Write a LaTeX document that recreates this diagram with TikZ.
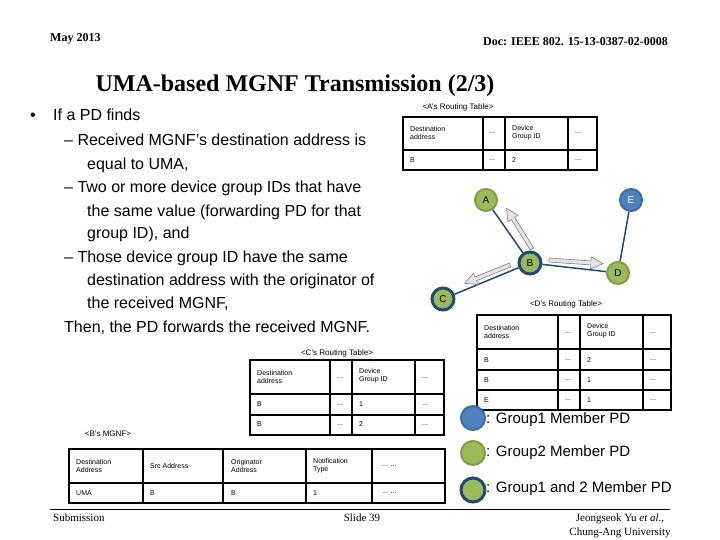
\documentclass[tikz,border=0pt]{standalone}
\usepackage{fontspec}
\setmainfont{Liberation Serif}
\setsansfont{Liberation Sans}
\usetikzlibrary{calc}
\definecolor{grn}{HTML}{9BBB59}
\definecolor{grnb}{HTML}{7F9F45}
\definecolor{blu}{HTML}{4F81BD}
\definecolor{blub}{HTML}{3A6EA5}
\definecolor{dblu}{HTML}{1F497D}
\begin{document}
\begin{tikzpicture}[x=1pt,y=-1pt,
  body/.style={anchor=base west,inner sep=0,font=\sffamily\fontsize{16}{16}\selectfont},
  tb/.style={font=\sffamily\fontsize{7}{8}\selectfont,anchor=west,inner sep=0,align=left},
  tcap/.style={font=\sffamily\fontsize{8}{8}\selectfont,inner sep=0},
  pdg/.style={circle,fill=grn,draw=grnb,line width=2pt,minimum size=22pt,inner sep=0,font=\sffamily\fontsize{10}{10}\selectfont},
  pdb/.style={circle,fill=blu,draw=blub,line width=2pt,minimum size=22pt,inner sep=0,font=\sffamily\fontsize{10}{10}\selectfont,text=white},
  pdr/.style={circle,fill=grn,draw=dblu,line width=3pt,minimum size=22pt,inner sep=0,font=\sffamily\fontsize{10}{10}\selectfont},
  lnk/.style={draw=dblu,line width=1.5pt},
  harr/.style={draw=gray,fill=gray!20,line width=0.6pt},
  leg/.style={font=\sffamily\fontsize{15}{15}\selectfont,anchor=west,inner sep=0},
  foot/.style={anchor=base,inner sep=0,font=\fontsize{11}{11}\selectfont}]
\useasboundingbox (0,0) rectangle (720,540);
\fill[white] (0,0) rectangle (720,540);
% header
\node[anchor=base west,inner sep=0,font=\bfseries\fontsize{12}{12}\selectfont] (hd1) at (50,42) {May 2013};
\node[anchor=base east,inner sep=0,font=\bfseries\fontsize{12}{12}\selectfont] (hd2) at (668,46) {Doc: IEEE 802. 15-13-0387-02-0008};
\node[anchor=base,inner sep=0,font=\bfseries\fontsize{24}{24}\selectfont] (title) at (295,92) {UMA-based MGNF Transmission (2/3)};
% body
\node[body] (bul) at (30,121) {•};
\node[body] (l1) at (53,121) {If a PD finds};
\node[body] (l2) at (64,146) {– Received MGNF’s destination address is};
\node[body] (l3) at (87,170) {equal to UMA,};
\node[body] (l4) at (64,193) {– Two or more device group IDs that have};
\node[body] (l5) at (87,216) {the same value (forwarding PD for that};
\node[body] (l6) at (87,239) {group ID), and};
\node[body] (l7) at (64,262) {– Those device group ID have the same};
\node[body] (l8) at (87,285) {destination address with the originator of};
\node[body] (l9) at (87,308) {the received MGNF,};
\node[body] (l10) at (64,332) {Then, the PD forwards the received MGNF.};
% A table
\fill[white] (403,117) rectangle (597,170);
\draw[line width=1.2pt] (403,117) rectangle (597,170) (403,150)--(597,150) (483,117)--(483,170) (505,117)--(505,170) (568,117)--(568,170);
\node[tcap] (capA) at (458,107) {<A's Routing Table>};
\node[tb] (a1) at (410,133) {Destination\\address};
\node[tb] (a2) at (489,133) {...};
\node[tb] (a3) at (512,133) {Device\\Group ID};
\node[tb] (a4) at (575,133) {...};
\node[tb] (a5) at (410,160) {B};
\node[tb] (a6) at (489,160) {...};
\node[tb] (a7) at (512,160) {2};
\node[tb] (a8) at (575,160) {...};
% graph
\node[pdg] (A) at (486,200) {A};
\node[pdb] (E) at (631,200) {E};
\node[pdr] (B) at (530,263) {B};
\node[pdg] (D) at (618,273) {D};
\node[pdr] (C) at (443,299) {C};
\draw[lnk] (B)--(A) (B)--(D) (E)--(D) (B)--(C);
\begin{scope}[shift={(532,249)},rotate=122]
\draw[harr] (0,-2)--(36,-2)--(36,-6)--(48,0)--(36,6)--(36,2)--(0,2)--cycle;
\end{scope}
\begin{scope}[shift={(549,260)},rotate=-4]
\draw[harr] (0,-2)--(42,-2)--(42,-6)--(54,0)--(42,6)--(42,2)--(0,2)--cycle;
\end{scope}
\begin{scope}[shift={(510,265)},rotate=202]
\draw[harr] (0,-2)--(37,-2)--(37,-6)--(49,0)--(37,6)--(37,2)--(0,2)--cycle;
\end{scope}
% D table
\draw[line width=1.2pt] (477,315) rectangle (671,410) (477,349)--(671,349) (477,370)--(671,370) (477,390)--(671,390) (558,315)--(558,410) (580,315)--(580,410) (643,315)--(643,410);
\node[tcap] (capD) at (566,304) {<D's Routing Table>};
\node[tb] (d1) at (484,332) {Destination\\address};
\node[tb] (d2) at (565,333) {...};
\node[tb] (d3) at (587,331) {Device\\Group ID};
\node[tb] (d4) at (650,333) {...};
\node[tb] (d5) at (484,360) {B}; \node[tb] (d6) at (565,360) {...}; \node[tb] (d7) at (587,360) {2}; \node[tb] (d8) at (650,360) {...};
\node[tb] (d9) at (484,380) {B}; \node[tb] (d10) at (565,380) {...}; \node[tb] (d11) at (587,380) {1}; \node[tb] (d12) at (650,380) {...};
\node[tb] (d13) at (484,400) {E}; \node[tb] (d14) at (565,400) {...}; \node[tb] (d15) at (587,400) {1}; \node[tb] (d16) at (650,400) {...};
% C table
\draw[line width=1.2pt] (250,360) rectangle (444,435) (250,394)--(444,394) (250,415)--(444,415) (330,360)--(330,435) (352,360)--(352,435) (415,360)--(415,435);
\node[tcap] (capC) at (337,353) {<C's Routing Table>};
\node[tb] (c1) at (257,377) {Destination\\address};
\node[tb] (c2) at (337,378) {...};
\node[tb] (c3) at (359,376) {Device\\Group ID};
\node[tb] (c4) at (422,378) {...};
\node[tb] (c5) at (257,404) {B}; \node[tb] (c6) at (337,405) {...}; \node[tb] (c7) at (359,404) {1}; \node[tb] (c8) at (422,405) {...};
\node[tb] (c9) at (257,424) {B}; \node[tb] (c10) at (337,425) {...}; \node[tb] (c11) at (359,424) {2}; \node[tb] (c12) at (422,425) {...};
% B's MGNF
\node[tcap] (capB) at (108,434) {<B's MGNF>};
\draw[line width=1.2pt] (69,449) rectangle (445,503) (69,483)--(445,483) (143,449)--(143,503) (223,449)--(223,503) (306,449)--(306,503) (372,449)--(372,503);
\node[tb] (m1) at (76,466) {Destination\\Address};
\node[tb] (m2) at (150,466) {Src Address};
\node[tb] (m3) at (231,466) {Originator\\Address};
\node[tb] (m4) at (313,466) {Notification\\Type};
\node[tb] (m5) at (382,466) {... ...};
\node[tb] (m6) at (76,493) {UMA}; \node[tb] (m7) at (150,493) {B}; \node[tb] (m8) at (231,493) {B}; \node[tb] (m9) at (313,493) {1}; \node[tb] (m10) at (382,493) {... ...};
% legend
\node[pdb,minimum size=24pt] (g1) at (473,418) {};
\node[pdg,minimum size=24pt] (g2) at (473,453) {};
\node[pdr,minimum size=24pt] (g3) at (473,490) {};
\node[leg] (t1) at (486,420) {: Group1 Member PD};
\node[leg] (t2) at (486,453) {: Group2 Member PD};
\node[leg] (t3) at (486,489) {: Group1 and 2 Member PD};
% footer
\draw[line width=0.6pt] (50,509)--(670,509);
\node[anchor=base west,inner sep=0,font=\fontsize{11}{11}\selectfont] (f1) at (53,521) {Submission};
\node[foot] (f2) at (362,521) {Slide 39};
\node[foot] (f3) at (620,521) {Jeongseok Yu \textit{et al}.,};
\node[foot] (f4) at (620,535) {Chung-Ang University};
\end{tikzpicture}
\end{document}
